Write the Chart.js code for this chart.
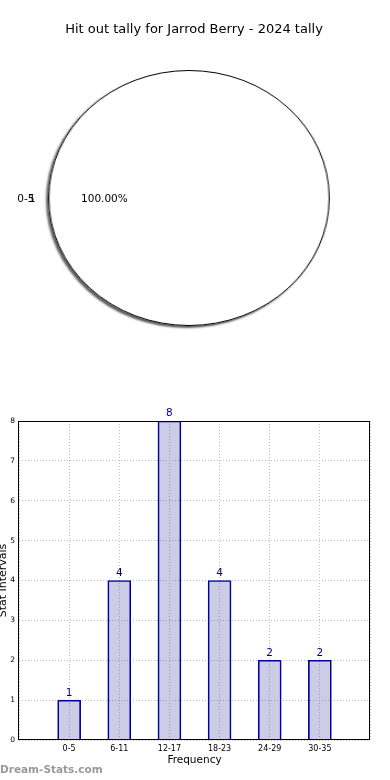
<!DOCTYPE html>
<html>
<head>
<meta charset="utf-8">
<script src="https://cdn.jsdelivr.net/npm/chart.js@4/dist/chart.umd.min.js"></script>
<style>
  html, body { margin: 0; padding: 0; background: #fff; }
  #wrap { position: relative; width: 390px; height: 780px; overflow: hidden; }
  #pie { position: absolute; left: 53px; top: 62px; transform: scaleX(1.1); z-index: 1; }
  #bars { position: absolute; left: 0; top: 0; z-index: 2; }
</style>
</head>
<body>
<div id="wrap">
  <canvas id="pie" width="272" height="272"></canvas>
  <canvas id="bars" width="390" height="780"></canvas>
</div>
<script>
const titleText = 'Hit out tally for Jarrod Berry - 2024 tally';
const pieLabels = ['0-5'];
const pieValues = [1];
const pieCounts = ['1'];

const categories = ['0-5', '6-11', '12-17', '18-23', '24-29', '30-35'];
const values = [1, 4, 8, 4, 2, 2];
const yTicks = [0, 1, 2, 3, 4, 5, 6, 7, 8];

Chart.defaults.font.family = '"DejaVu Sans", sans-serif';
Chart.defaults.color = '#000';

// pie: white slice, outline + drop shadow drawn from the arc element
const pieLook = {
  id: 'pieLook',
  beforeDatasetsDraw(chart) {
    const ctx = chart.ctx;
    ctx.save();
    ctx.shadowColor = 'rgba(0,0,0,0.65)';
    ctx.shadowOffsetX = -2;
    ctx.shadowOffsetY = 2;
    ctx.shadowBlur = 2;
  },
  afterDatasetsDraw(chart) {
    const ctx = chart.ctx;
    ctx.restore();
    const arc = chart.getDatasetMeta(0).data[0];
    ctx.save();
    ctx.strokeStyle = '#000';
    ctx.lineWidth = 1;
    ctx.beginPath();
    ctx.arc(arc.x, arc.y, arc.outerRadius - 0.5, 0, Math.PI * 2);
    ctx.stroke();
    ctx.restore();
  }
};

new Chart(document.getElementById('pie'), {
  type: 'pie',
  data: {
    labels: pieLabels,
    datasets: [{
      data: pieValues,
      backgroundColor: '#fff',
      borderWidth: 0
    }]
  },
  options: {
    responsive: false,
    animation: false,
    layout: { padding: 8 },
    plugins: { legend: { display: false }, tooltip: { enabled: false } }
  },
  plugins: [pieLook]
});

// texts for the top half + frame and value labels for the bars
const overlay = {
  id: 'overlay',
  afterDatasetsDraw(chart) {
    const ctx = chart.ctx;
    const meta = chart.getDatasetMeta(0);
    ctx.save();
    ctx.fillStyle = '#00008b';
    ctx.font = '10.5px "DejaVu Sans"';
    ctx.textAlign = 'center';
    ctx.textBaseline = 'bottom';
    meta.data.forEach((bar, i) => {
      ctx.fillText(String(values[i]), bar.x, bar.y - 2);
    });
    ctx.restore();
  },
  afterDraw(chart) {
    const ctx = chart.ctx;
    const a = chart.chartArea;
    ctx.save();
    ctx.strokeStyle = '#000';
    ctx.lineWidth = 1;
    ctx.strokeRect(Math.round(a.left) - 0.5, Math.round(a.top) + 0.5,
      Math.round(a.right - a.left), Math.round(a.bottom - a.top) - 1);

    ctx.fillStyle = '#000';
    ctx.textBaseline = 'middle';
    ctx.textAlign = 'center';
    ctx.font = '13px "DejaVu Sans"';
    ctx.fillText(titleText, 194, 30);

    const pcx = 189, pcy = 199, prx = 141;
    ctx.font = '10.5px "DejaVu Sans"';
    ctx.textAlign = 'right';
    ctx.fillText(pieLabels[0], pcx - prx * 1.1 + 0.5, pcy);
    ctx.fillText(pieCounts[0], pcx - prx * 1.1 + 1.5, pcy);
    ctx.textAlign = 'center';
    const pct = (pieValues[0] / pieValues.reduce((s, v) => s + v, 0) * 100).toFixed(2) + '%';
    ctx.fillText(pct, pcx - prx * 0.6, pcy);

    ctx.fillStyle = '#999';
    ctx.textAlign = 'left';
    ctx.font = 'bold 10.5px "DejaVu Sans"';
    ctx.fillText('Dream-Stats.com', 0, 770);
    ctx.restore();
  }
};

const gridLook = {
  color: '#bdbdbd',
  lineWidth: 1,
  drawTicks: false,
  offset: false
};

new Chart(document.getElementById('bars'), {
  type: 'bar',
  data: {
    datasets: [{
      data: categories.map((c, i) => ({ x: i, y: values[i] })),
      backgroundColor: 'rgba(0,0,128,0.2)',
      borderColor: '#0000a0',
      borderWidth: 1,
      barThickness: 23
    }]
  },
  options: {
    responsive: false,
    animation: false,
    layout: { padding: { top: 421, right: 20, bottom: 0, left: 0 } },
    plugins: { legend: { display: false }, tooltip: { enabled: false } },
    scales: {
      x: {
        type: 'linear',
        offset: false,
        min: -1,
        max: 6,
        grid: gridLook,
        border: { display: false, dash: [1, 2] },
        ticks: {
          stepSize: 1,
          autoSkip: false,
          maxRotation: 0,
          padding: 4,
          font: { size: 8 },
          callback: (v) => categories[v] ?? ''
        },
        title: {
          display: true,
          text: 'Frequency',
          font: { size: 10.5 },
          padding: { top: 0, bottom: 13 }
        },
        afterFit(scale) { scale.height = 40; }
      },
      y: {
        min: 0,
        max: 8,
        grid: gridLook,
        border: { display: false, dash: [1, 2] },
        afterBuildTicks(scale) { scale.ticks = yTicks.map(v => ({ value: v })); },
        ticks: { padding: 4, font: { size: 7.5 } },
        title: {
          display: true,
          text: 'Stat Intervals',
          font: { size: 11 },
          padding: { top: -3, bottom: 0 }
        },
        afterFit(scale) { scale.width = 19; }
      }
    }
  },
  plugins: [overlay]
});
</script>
</body>
</html>
